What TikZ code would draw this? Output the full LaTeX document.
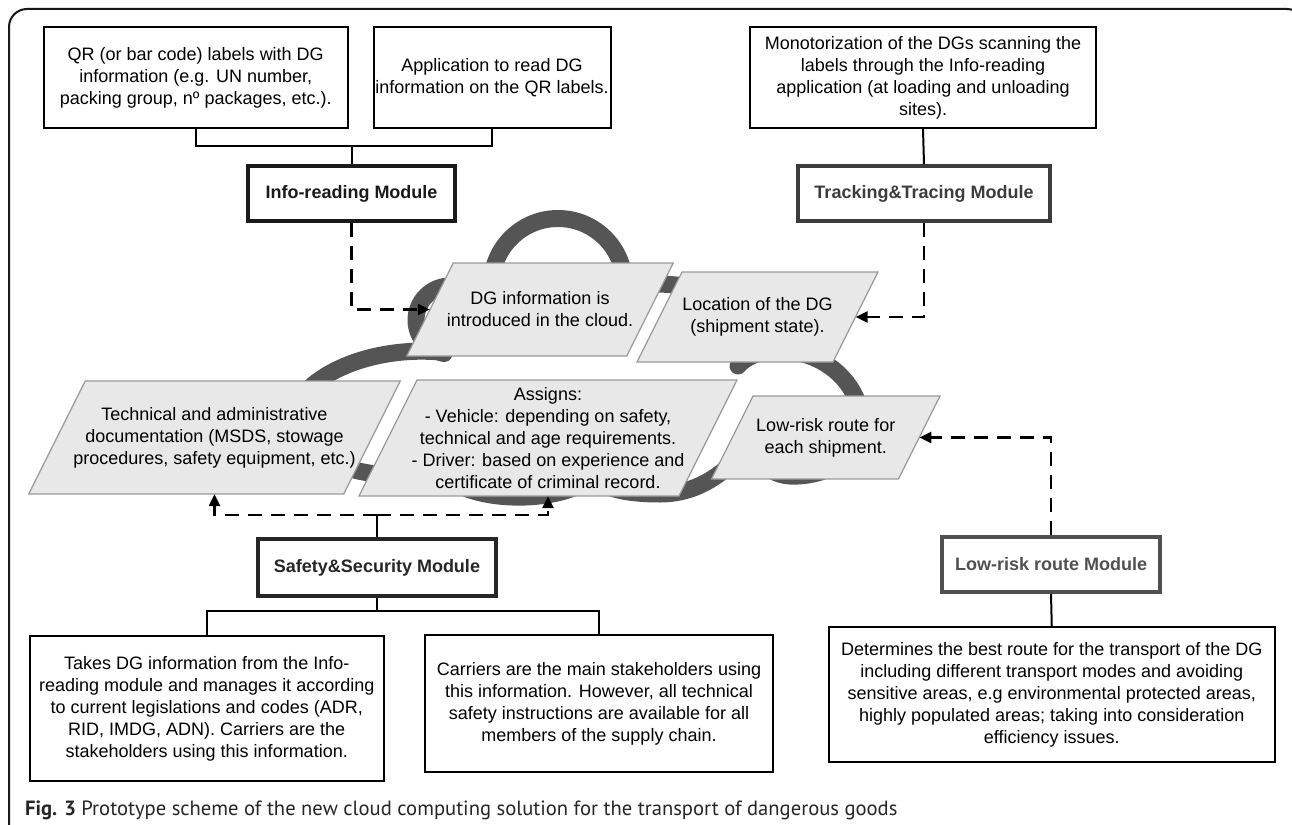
\documentclass[tikz,border=0pt]{standalone}
\usepackage{fontspec}
\setmainfont{Liberation Sans}
\newfontfamily\capfont{PT Sans}
\usetikzlibrary{arrows.meta,calc}
\definecolor{cloudgray}{HTML}{555555}
\definecolor{parfill}{HTML}{E8E8E8}
\definecolor{parline}{HTML}{9A9A9A}
\definecolor{modA}{HTML}{1A1A1A}
\definecolor{modB}{HTML}{3C3C3C}
\definecolor{modC}{HTML}{262626}
\definecolor{modD}{HTML}{505050}
\tikzset{
  basefont/.style={font=\fontsize{18}{22}\selectfont},
  txtbox/.style={basefont, draw=black, line width=2pt, fill=white, align=center, inner sep=0pt},
  modbox/.style={font=\bfseries\fontsize{18}{22}\selectfont, draw=#1, text=#1, line width=3.5pt, fill=white, inner sep=0pt, minimum height=55pt},
  parshape/.style={fill=parfill, draw=parline, line width=1.2pt},
  partext/.style={basefont, align=center, inner sep=0pt},
  conn/.style={line width=2pt, black},
  dconn/.style={line width=2.5pt, black, dash pattern=on 14pt off 9pt, -{Triangle[length=12pt,width=11pt]}},
  cloudline/.style={draw=cloudgray, line width=17pt, line join=round},
  frameline/.style={line width=2pt, draw=black!90, rounded corners=18pt}
}
\newcommand\slantnode[6]{%
  \filldraw[parshape] ({#2-#4/2+#5/4},{#3-#5/2}) -- ++(#4,0) -- ++({-#5/2},#5) -- ++(-#4,0) -- cycle;
  \node[partext, minimum width=#4pt, minimum height=#5pt] (#1) at (#2,#3) {#6};%
}
\begin{document}
\begin{tikzpicture}[x=1pt,y=-1pt]
\useasboundingbox (0,0) rectangle (1292,824);
\clip (0,0) rectangle (1292,824);
\fill[white] (0,0) rectangle (1292,824);
% frame
\draw[frameline] (9,840) -- (9,9) -- (1305,9) -- (1305,40);

% cloud
\draw[cloudline] (491.5,285) arc[start angle=180, end angle=360, radius=66.5]
  .. controls (680,280) and (800,290) .. (738,366)
  .. controls (760,340) and (830,345) .. (855,396)
  .. controls (882,450) and (830,478) .. (790,476)
  .. controls (770,475) and (755,460) .. (750,442)
  .. controls (730,470) and (700,494) .. (660,494)
  .. controls (630,494) and (605,490) .. (590,476)
  .. controls (575,500) and (480,508) .. (445,476)
  .. controls (380,480) and (300,470) .. (295,420)
  .. controls (290,385) and (360,345) .. (440,352)
  -- (444.1,353.5) arc[start angle=100, end angle=300, radius=34]
  -- cycle;

% parallelograms in the cloud
\slantnode{DG}{540}{309.5}{220}{93}{DG information is\\introduced in the cloud.}
\slantnode{Loc}{757.5}{317}{196}{90}{Location of the DG\\(shipment state).}
\slantnode{Tech}{214.5}{437.5}{315}{113}{Technical and administrative\\documentation (MSDS, stowage\\procedures, safety equipment, etc.)}
\slantnode{Asg}{548}{438}{320}{116}{Assigns:\\- Vehicle: depending on safety,\\technical and age requirements.\\- Driver: based on experience and\\certificate of criminal record.}
\slantnode{LRP}{825.75}{437.5}{187}{83}{Low-risk route for\\each shipment.}

% top boxes
\node[txtbox, minimum width=304.5pt, minimum height=101pt] (QR) at (195.75,77.5)
  {QR (or bar code) labels with DG\\information (e.g. UN number,\\packing group, nº packages, etc.).};
\node[txtbox, minimum width=237pt, minimum height=101pt] (App) at (492,77.5)
  {Application to read DG\\information on the QR labels.};
\node[txtbox, minimum width=346pt, minimum height=101pt] (Mono) at (923,77.5)
  {Monotorization of the DGs scanning the\\labels through the Info-reading\\application (at loading and unloading\\sites).};

% module boxes
\node[modbox=modA, minimum width=207pt] (Info) at (351.5,193.5) {Info-reading Module};
\node[modbox=modB, minimum width=252pt] (Track) at (924,193.5) {Tracking\&Tracing Module};
\node[modbox=modC, minimum width=238pt, minimum height=57pt] (Safe) at (377,567.5) {Safety\&Security Module};
\node[modbox=modD, minimum width=218pt] (LRM) at (1051,564.5) {Low-risk route Module};

% bottom boxes
\node[txtbox, minimum width=353.5pt, minimum height=145pt] (LB) at (206.75,708.5)
  {Takes DG information from the Info-\\reading module and manages it according\\to current legislations and codes (ADR,\\RID, IMDG, ADN). Carriers are the\\stakeholders using this information.};
\node[txtbox, minimum width=348pt, minimum height=137pt] (CB) at (599,703.5)
  {Carriers are the main stakeholders using\\this information. However, all technical\\safety instructions are available for all\\members of the supply chain.};
\node[txtbox, minimum width=445.5pt, minimum height=135pt] (LRB) at (1051.75,694.5)
  {Determines the best route for the transport of the DG\\including different transport modes and avoiding\\sensitive areas, e.g environmental protected areas,\\highly populated areas; taking into consideration\\efficiency issues.};

% solid connectors
\draw[conn] (QR.south) -- (QR.south |- 0,146) -| (App.south);
\draw[conn] (Info.north) -- (Info.north |- 0,146);
\draw[conn] (Mono.south) -- (Track.north);
\draw[conn] (LB.north) -- (LB.north |- 0,611) -| (CB.north);
\draw[conn] (Safe.south) -- (Safe.south |- 0,611);
\draw[conn] (LRM.south) -- (LRB.north);

% dashed connectors with arrows
\draw[dconn] (Info.south) |- (DG.west);
\draw[dconn] (Track.south) |- (Loc.east);
\draw[dconn] (LRM.north) |- (LRP.east);
\coordinate (sj) at (377,515);
\draw[line width=2.5pt, black] (Safe.north) -- (sj);
\draw[dconn] (sj) -| (Tech.south);
\draw[dconn] (sj) -| (Asg.south);

% caption
\node[anchor=base west, inner sep=0pt, font=\capfont\fontsize{20.6}{24}\selectfont, text=black!85] (cap) at (25,815)
  {\textbf{Fig. 3} Prototype scheme of the new cloud computing solution for the transport of dangerous goods};
\end{tikzpicture}
\end{document}
